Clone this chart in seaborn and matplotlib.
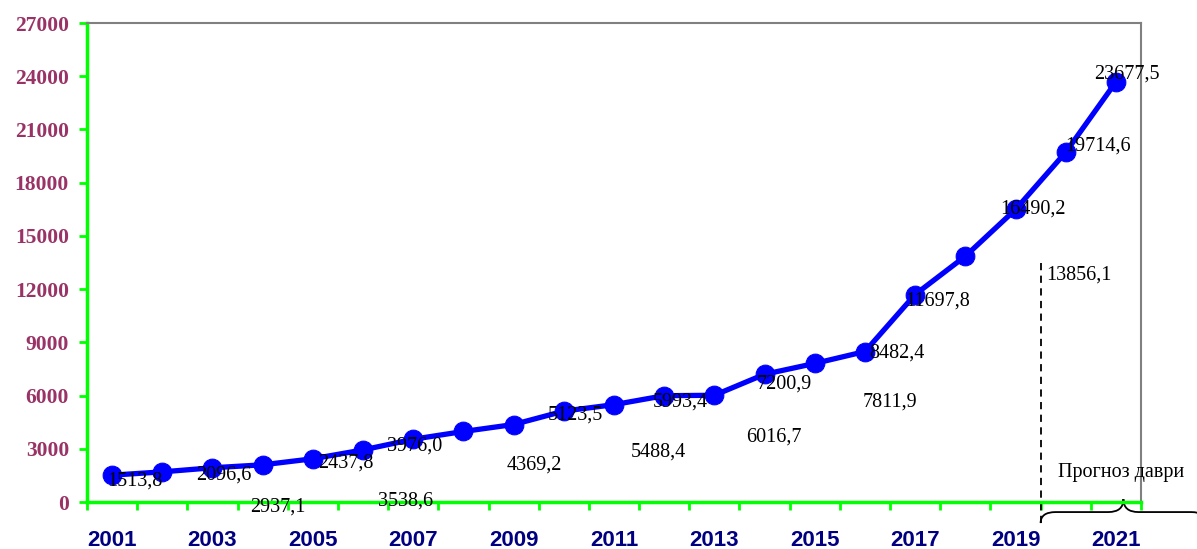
import numpy as np
import pandas as pd
import seaborn as sns
import matplotlib.pyplot as plt
from matplotlib.path import Path
from matplotlib.patches import PathPatch
import matplotlib.transforms as mtransforms

#%% data

years = list(range(2001, 2022))
values = [1513.8, 1700.0, 1930.0, 2096.6, 2437.8, 2937.1, 3538.6, 3976.0,
          4369.2, 5123.5, 5488.4, 5993.4, 6016.7, 7200.9, 7811.9, 8482.4,
          11697.8, 13856.1, 16490.2, 19714.6, 23677.5]
# years 2002 and 2003 have no label on the chart
show_label = [True, False, False] + [True] * 18
y_ticks = list(range(0, 27001, 3000))
x_tick_years = list(range(2001, 2022, 2))
forecast_text = "Прогноз даври"

# label offsets in pixels (dx right, dy down) relative to each point
label_offsets = [(23, 6), (0, 0), (0, 0), (-39, 10), (33, 4), (-85, 57),
                 (-8, 62), (-49, 15), (21, 41), (12, 4), (44, 47), (16, 6),
                 (59, 42), (20, 10), (75, 39), (32, 2), (22, 7), (114, 19),
                 (17, 0), (32, -6), (11, -8)]

df = pd.DataFrame({"year": years, "value": values})

#%% drawing

sns.set_style("white")
plt.rcParams['font.family'] = ['Liberation Serif', 'DejaVu Serif']

fig = plt.figure(figsize=(11.97, 5.49), dpi=100)
ax = fig.add_axes([0.0727, 0.0856, 0.8805, 0.8724])

sns.lineplot(data=df, x="year", y="value", ax=ax, color="#0000FF",
             linewidth=3.8, marker="o", markersize=13.5,
             markeredgecolor="#0000FF", markerfacecolor="#0000FF",
             solid_joinstyle="round", solid_capstyle="round")

for yr, v, show, (dx, dy) in zip(years, values, show_label, label_offsets):
    if not show:
        continue
    txt = f"{v:.1f}".replace(".", ",")
    ax.annotate(txt, (yr, v), xytext=(dx, -dy), textcoords="offset pixels",
                ha="center", va="center", fontsize=14.5, color="black",
                annotation_clip=False)

ax.set_xlim(2000.5, 2021.5)
ax.set_ylim(0, 27000)
ax.set_xlabel("")
ax.set_ylabel("")

# y axis
ax.set_yticks(y_ticks)
ax.set_yticklabels([str(t) for t in y_ticks], fontweight="bold",
                   fontsize=15.5, color="#993366")
ax.tick_params(axis="y", which="major", direction="out", length=6,
               width=2, color="#00FF00", left=True, pad=7)

# x axis: labels on odd years, tick marks between years
ax.set_xticks(x_tick_years)
ax.set_xticklabels([str(y) for y in x_tick_years], fontweight="bold",
                   fontsize=16, color="#000080", family="Liberation Sans")
ax.tick_params(axis="x", which="major", length=0, pad=20)
ax.set_xticks(np.arange(2000.5, 2022, 1), minor=True)
ax.tick_params(axis="x", which="minor", direction="out", length=6,
               width=2, color="#00FF00", bottom=True)

for side in ["left", "bottom"]:
    ax.spines[side].set_color("#00FF00")
    ax.spines[side].set_linewidth(2.5)
for side in ["top", "right"]:
    ax.spines[side].set_color("#808080")
    ax.spines[side].set_linewidth(1.5)
ax.grid(False)

# forecast period: dashed line + brace
forecast_start = 2019.5
ax.axvline(forecast_start, ymin=-0.044, ymax=0.5, color="black",
           linestyle=(0, (4, 3)), linewidth=1.3, clip_on=False)

trans = mtransforms.blended_transform_factory(ax.transData, ax.transAxes)
x0, xt, x1 = forecast_start, 2021.15, 2022.8
yb, ym, yt = -0.044, -0.021, 0.006
verts = [(x0, yb), (x0, ym), (x0 + 0.3, ym),
         (xt - 0.3, ym), (xt, ym), (xt, yt),
         (xt, ym), (xt + 0.3, ym),
         (x1 - 0.3, ym), (x1, ym), (x1, yb)]
codes = [Path.MOVETO, Path.CURVE3, Path.CURVE3,
         Path.LINETO, Path.CURVE3, Path.CURVE3,
         Path.CURVE3, Path.CURVE3,
         Path.LINETO, Path.CURVE3, Path.CURVE3]
brace = PathPatch(Path(verts, codes), transform=trans, fill=False,
                  edgecolor="black", linewidth=1.3, clip_on=False)
ax.add_patch(brace)

ax.text(2021.1, 1650, forecast_text, ha="center", va="center",
        fontsize=14.5, color="black")

plt.savefig("out.png", dpi=100)
plt.close()
